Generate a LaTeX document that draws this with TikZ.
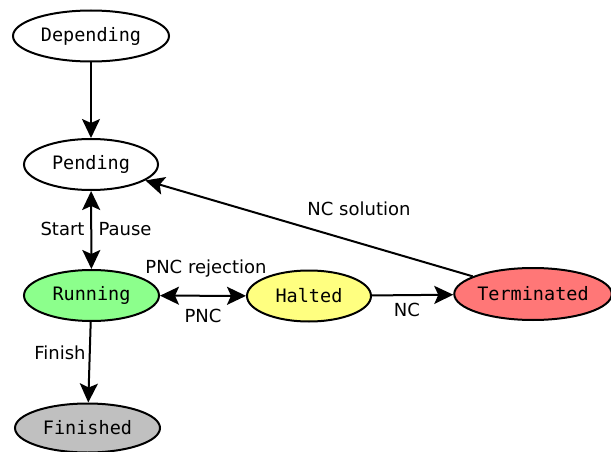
\documentclass[tikz,border=0pt]{standalone}
\usepackage{fontspec}
\setmainfont{DejaVu Sans}
\newfontfamily\statefont{DejaVu Sans Mono}
\usetikzlibrary{shapes.geometric,arrows.meta}

\definecolor{runfill}{HTML}{8CFF8C}
\definecolor{haltfill}{HTML}{FFFF80}
\definecolor{termfill}{HTML}{FF7777}
\definecolor{finfill}{HTML}{C0C0C0}

\tikzset{
  state/.style={ellipse, draw=black, line width=2pt, inner sep=0pt,
    font=\statefont\fontsize{18.5}{20}\selectfont},
  trans/.style={line width=2pt, -{Stealth[length=19pt,width=18pt,inset=4pt]}},
  both/.style={line width=2pt,
    {Stealth[length=19pt,width=18pt,inset=4pt]}-{Stealth[length=19pt,width=18pt,inset=4pt]}},
  lbl/.style={font=\fontsize{18}{20}\selectfont, inner sep=1pt}
}

\begin{document}
\begin{tikzpicture}[x=1pt,y=-1pt]
  \useasboundingbox (0,0) rectangle (611,452);

  % states
  \node[state, minimum width=156pt, minimum height=51pt] (dep) at (91,36) {Depending};
  \node[state, minimum width=134pt, minimum height=51pt] (pen) at (91,164.5) {Pending};
  \node[state, fill=runfill, minimum width=135pt, minimum height=51pt] (run) at (91.5,295.5) {Running};
  \node[state, fill=haltfill, minimum width=124pt, minimum height=51pt] (hal) at (309,296) {Halted};
  \node[state, fill=termfill, minimum width=156pt, minimum height=52pt] (ter) at (533,294) {Terminated};
  \node[state, fill=finfill, minimum width=145pt, minimum height=49pt] (fin) at (87.5,428) {Finished};

  % transitions
  \draw[trans] (dep) -- (pen);
  \draw[both] (pen) -- (run);
  \draw[both] (run) -- (hal);
  \draw[trans] (hal) -- (ter);
  \draw[trans] (ter) -- (pen);
  \draw[trans] (run) -- (fin);

  % transition labels
  \node[lbl] (lstart) at (62.5,229) {Start};
  \node[lbl] (lpause) at (125,229) {Pause};
  \node[lbl] (lrej) at (206,269) {PNC rejection};
  \node[lbl] (lpnc) at (203,316) {PNC};
  \node[lbl] (lnc) at (407,310) {NC};
  \node[lbl] (lsol) at (359,209) {NC solution};
  \node[lbl] (lfin) at (60,353) {Finish};
\end{tikzpicture}
\end{document}
